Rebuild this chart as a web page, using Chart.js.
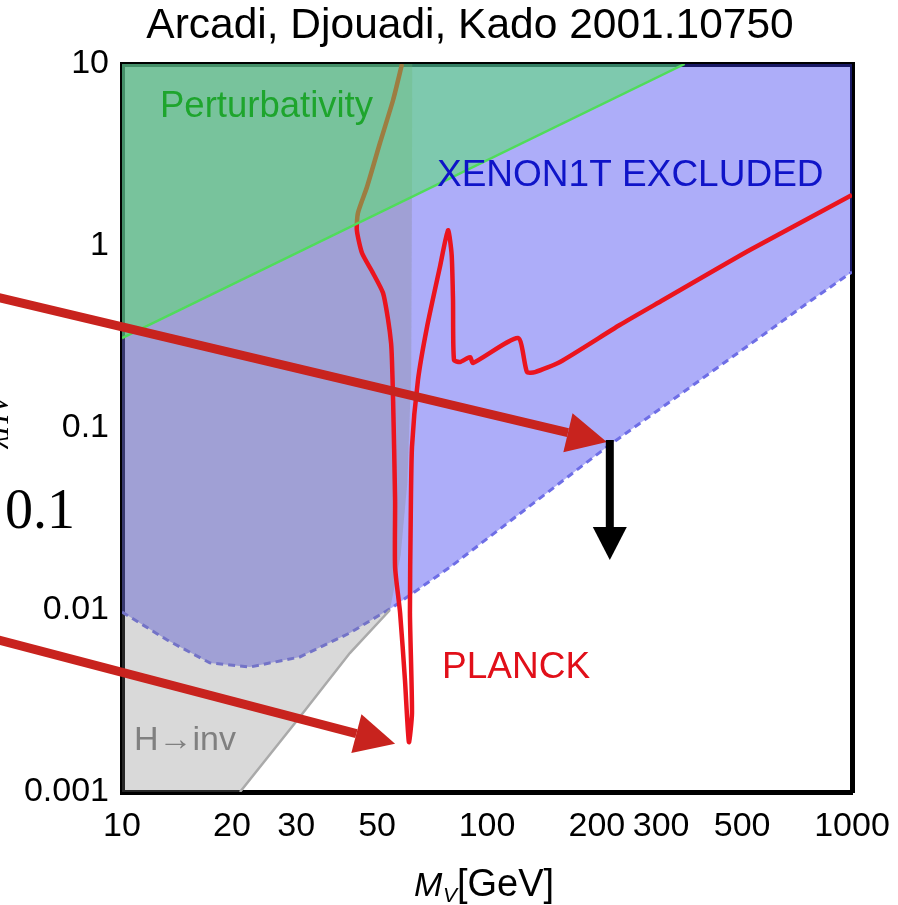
<!DOCTYPE html>
<html>
<head>
<meta charset="utf-8">
<script src="https://cdn.jsdelivr.net/npm/chart.js@4.4.1/dist/chart.umd.min.js"></script>
<style>
  html, body { margin: 0; padding: 0; background: #fff; }
</style>
</head>
<body>
<canvas id="c" width="898" height="905"></canvas>
<script>
// axis ticks
const xTicks = [10, 20, 30, 50, 100, 200, 300, 500, 1000];
const yTicks = [0.001, 0.01, 0.1, 1, 10];

// XENON1T bound (dashed), everything above is excluded
const xenonM = [10, 13.3, 17.4, 22.4, 30.7, 42.1, 55.3, 79.2, 213, 776, 1000];
const xenonL = [0.00975, 0.00684, 0.00512, 0.00486, 0.00552, 0.00748, 0.0104, 0.0172, 0.0787, 0.505, 0.72];

// perturbativity bound
const pertM = [10, 348];
const pertL = [0.312, 10];

// H -> invisible bound (region left / above)
const hinvM = [10, 21.05, 30.7, 42.1, 54.2, 58, 60.5, 62, 62.5];
const hinvL = [0.001, 0.001, 0.00258, 0.0058, 0.01, 0.02, 0.05, 0.2, 10];

// PLANCK relic density curve
const planckM = [58.5, 55.3, 50.9, 46.9, 44.3, 44.0, 45.45, 48.7, 51.9, 53.6, 54.6, 54.9, 55.3, 56.0, 56.0, 57.8, 59.6, 61.1,
                 62.3, 61.5, 61.8, 62.3, 64.7, 68.5, 74.3, 78.2, 80.0, 80.7, 81.2, 84.3, 88.5, 90.0, 91.6,
                 121.6, 128.7, 135.4, 158.5, 231, 303.5, 525, 1000];
const planckL = [10, 6.34, 3.68, 2.11, 1.52, 1.22, 0.915, 0.711, 0.552, 0.392, 0.293, 0.2365, 0.1426, 0.0402, 0.0172, 0.00963, 0.00412, 0.00188,
                 0.00272, 0.00963, 0.0312, 0.0787, 0.1836, 0.359, 0.767, 1.22, 0.9, 0.505, 0.2365, 0.2306, 0.2426, 0.245, 0.2277,
                 0.312, 0.203, 0.203, 0.2306, 0.368, 0.505, 0.951, 1.905];

function pts(ms, ls) {
  return ms.map((m, i) => ({ x: m, y: ls[i] }));
}

function arrow(ctx, x0, y0, x1, y1, color, w, len, half) {
  const ang = Math.atan2(y1 - y0, x1 - x0);
  const bx = x1 - len * Math.cos(ang), by = y1 - len * Math.sin(ang);
  ctx.strokeStyle = color;
  ctx.fillStyle = color;
  ctx.lineWidth = w;
  ctx.lineCap = 'butt';
  ctx.beginPath();
  ctx.moveTo(x0, y0);
  ctx.lineTo(bx, by);
  ctx.stroke();
  ctx.beginPath();
  ctx.moveTo(x1, y1);
  ctx.lineTo(bx + half * Math.sin(ang), by - half * Math.cos(ang));
  ctx.lineTo(bx - half * Math.sin(ang), by + half * Math.cos(ang));
  ctx.closePath();
  ctx.fill();
}

const notes = {
  id: 'notes',
  afterDraw(chart) {
    const { ctx, scales: { x, y } } = chart;
    const px = v => x.getPixelForValue(v), py = v => y.getPixelForValue(v);
    ctx.save();

    // title
    ctx.fillStyle = '#000';
    ctx.font = '42.5px "Liberation Sans", Arial, sans-serif';
    ctx.textAlign = 'center';
    ctx.textBaseline = 'alphabetic';
    ctx.fillText('Arcadi, Djouadi, Kado 2001.10750', 470, 38);

    // x axis title
    ctx.textAlign = 'left';
    ctx.font = 'italic 34px "Liberation Sans", Arial, sans-serif';
    ctx.fillText('M', 414, 896);
    ctx.font = 'italic 21px "Liberation Sans", Arial, sans-serif';
    ctx.fillText('V', 443, 902);
    ctx.font = '38px "Liberation Sans", Arial, sans-serif';
    ctx.fillText('[GeV]', 457, 896);

    // region labels
    ctx.font = '36.5px "Liberation Sans", Arial, sans-serif';
    ctx.fillStyle = 'rgb(30,165,45)';
    ctx.fillText('Perturbativity', 160, 117);
    ctx.font = '37px "Liberation Sans", Arial, sans-serif';
    ctx.fillStyle = 'rgb(15,20,200)';
    ctx.fillText('XENON1T EXCLUDED', 437, 186);
    ctx.fillStyle = 'rgb(225,15,25)';
    ctx.fillText('PLANCK', 442, 678);
    ctx.font = '34px "Liberation Sans", Arial, sans-serif';
    ctx.fillStyle = 'rgb(128,128,128)';
    ctx.fillText('H\u2192inv', 134, 750);

    // overlay annotations
    ctx.fillStyle = '#000';
    ctx.font = '56px "Liberation Serif", "DejaVu Serif", serif';
    ctx.fillText('0.1', 5, 528);

    ctx.save();
    ctx.translate(8, 422);
    ctx.rotate(-Math.PI / 2);
    ctx.textAlign = 'center';
    ctx.font = 'italic 30px "Liberation Serif", serif';
    ctx.fillText('\u03bbHV', 0, 0);
    ctx.restore();

    arrow(ctx, px(4.6), py(0.52), px(213), py(0.0838), 'rgb(200,35,30)', 9, 40, 20);
    arrow(ctx, px(4.6), py(0.00684), px(56), py(0.00184), 'rgb(200,35,30)', 9, 40, 20);
    arrow(ctx, px(217), py(0.086), px(217), py(0.0188), '#000', 8, 33, 17);

    ctx.restore();
  }
};

new Chart(document.getElementById('c'), {
  type: 'line',
  data: {
    datasets: [
      {
        label: 'Perturbativity',
        data: pts(pertM, pertL),
        fill: 'end',
        backgroundColor: 'rgba(80,230,100,0.5)',
        borderColor: 'rgb(80,220,90)',
        borderWidth: 2.5
      },
      {
        label: 'PLANCK',
        data: pts(planckM, planckL),
        fill: false,
        borderColor: 'rgb(235,20,30)',
        borderWidth: 4.5,
        borderJoinStyle: 'round',
        tension: 0.2
      },
      {
        label: 'H->inv edge',
        data: pts(hinvM.slice(1, 5), hinvL.slice(1, 5)),
        fill: false,
        borderColor: 'rgb(170,170,170)',
        borderWidth: 2.5
      },
      {
        label: 'H->inv',
        data: pts(hinvM, hinvL),
        fill: 'end',
        backgroundColor: 'rgba(128,128,128,0.3)',
        borderWidth: 0
      },
      {
        label: 'XENON1T',
        data: pts(xenonM, xenonL),
        fill: 'end',
        backgroundColor: 'rgba(60,60,240,0.42)',
        borderColor: 'rgb(110,110,230)',
        borderDash: [7, 5],
        borderWidth: 3
      }
    ]
  },
  options: {
    responsive: false,
    animation: false,
    layout: { padding: { left: 0, right: 46, top: 64, bottom: 0 } },
    elements: { line: { tension: 0 }, point: { radius: 0 } },
    plugins: { legend: { display: false }, tooltip: { enabled: false } },
    scales: {
      x: {
        type: 'logarithmic', position: 'bottom', min: 10, max: 1000, z: 1,
        afterBuildTicks: s => { s.ticks = xTicks.map(v => ({ value: v })); },
        afterFit: s => { s.height = 113; s.paddingLeft = 0; s.paddingRight = 0; },
        ticks: {
          callback: v => String(v), autoSkip: false, maxRotation: 0, minRotation: 0,
          color: '#000', padding: 14, font: { family: '"Liberation Sans", Arial, sans-serif', size: 34 }
        },
        grid: { display: false, drawTicks: false },
        border: { color: '#000', width: 5 }
      },
      y: {
        type: 'logarithmic', position: 'left', min: 0.001, max: 10, z: 1,
        afterBuildTicks: s => { s.ticks = yTicks.map(v => ({ value: v })); },
        afterFit: s => { s.width = 122; s.paddingTop = 0; s.paddingBottom = 0; },
        ticks: {
          callback: v => String(v), autoSkip: false,
          color: '#000', padding: 13, font: { family: '"Liberation Sans", Arial, sans-serif', size: 34 }
        },
        grid: { display: false, drawTicks: false },
        border: { color: '#000', width: 5 }
      },
      x2: {
        type: 'logarithmic', position: 'top', min: 10, max: 1000, z: 1,
        afterFit: s => { s.height = 0; },
        ticks: { display: false },
        grid: { display: false, drawTicks: false },
        border: { color: '#000', width: 5 }
      },
      y2: {
        type: 'logarithmic', position: 'right', min: 0.001, max: 10, z: 1,
        afterFit: s => { s.width = 0; },
        ticks: { display: false },
        grid: { display: false, drawTicks: false },
        border: { color: '#000', width: 5 }
      }
    }
  },
  plugins: [notes]
});
</script>
</body>
</html>
